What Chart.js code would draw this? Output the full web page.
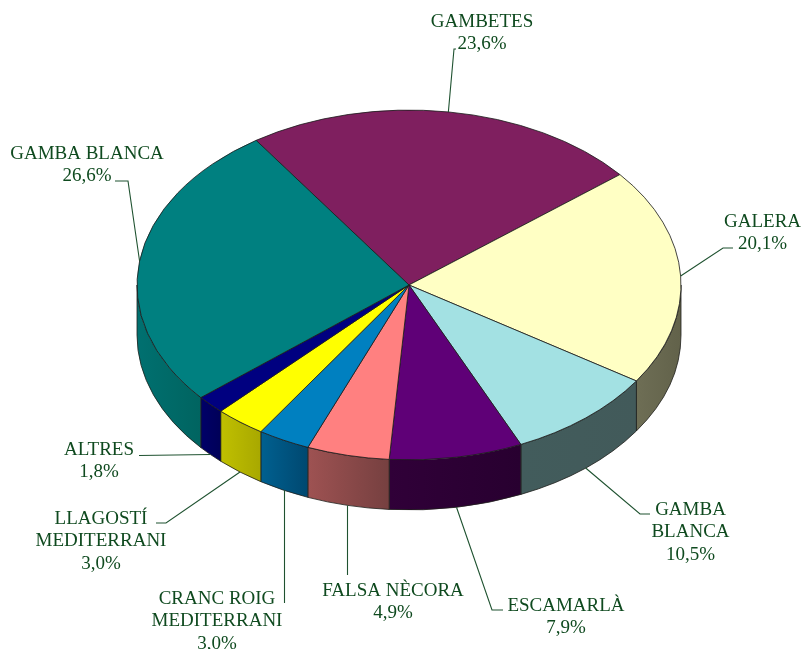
<!DOCTYPE html>
<html>
<head>
<meta charset="utf-8">
<style>html,body{margin:0;padding:0;background:#fff}canvas{display:block}</style>
<script src="https://cdn.jsdelivr.net/npm/chart.js@4"></script>
</head>
<body>
<canvas id="c" width="804" height="649"></canvas>
<script>
const categories = ["GAMBETES","GALERA","GAMBA\nBLANCA","ESCAMARLÀ","FALSA NÈCORA","CRANC ROIG\nMEDITERRANI","LLAGOSTÍ\nMEDITERRANI","ALTRES","GAMBA BLANCA"];
const percentLabels = ["23,6%","20,1%","10,5%","7,9%","4,9%","3,0%","3,0%","1,8%","26,6%"];
// Slice sizes as drawn in the picture (the "GAMBA BLANCA 10,5%" slice is drawn at about 9%).
const sliceValues = [23.6,20.1,9.0,7.9,4.9,3.1,3.0,1.7,26.6];
const topColors = ["#7F1F5F","#FFFFC4","#A3E1E3","#5F0077","#FF8080","#0080C0","#FFFF00","#000080","#008080"];
const sideStart = ["#501040","#6E6E55","#425C5C","#300038","#9E5252","#006090","#C0C000","#000068","#007070"];
const sideEnd   = ["#501040","#62624A","#425A5A","#280030","#764040","#004870","#A8A800","#000058","#006460"];
const labelCenters = [482,762.5,690.5,566,393,217,101,99,87];
const labelBaselines = [27,227,515,610.5,596,604,524,455,159];
const leaderElbows = [[[454,49],[456,49]],[[723,248],[733,248]],[[640,514],[650,514]],[[492,610],[503,610]],[[347.5,575]],[[284.5,603]],[[166,523],[156,523]],[[139,455.5]],[[128,181],[115,181]]];

const TILT = 0.643, DEPTH = 50, LINE = 22.3;
const textColor = "#0F4A1F";

const tiltPlugin = {
  id: "tilt",
  beforeDatasetsDraw(chart) {
    const ctx = chart.ctx, arcs = chart.getDatasetMeta(0).data;
    arcs.forEach((a, i) => {
      const from = Math.max(a.startAngle, 0), to = Math.min(a.endAngle, Math.PI);
      if (to <= from) return;
      const rx = a.outerRadius, ry = rx * TILT;
      const x0 = a.x + rx * Math.cos(from), x1 = a.x + rx * Math.cos(to);
      const g = ctx.createLinearGradient(Math.min(x0, x1), 0, Math.max(x0, x1), 0);
      g.addColorStop(0, sideStart[i]);
      g.addColorStop(1, sideEnd[i]);
      ctx.beginPath();
      ctx.ellipse(a.x, a.y, rx, ry, 0, from, to);
      ctx.ellipse(a.x, a.y + DEPTH, rx, ry, 0, to, from, true);
      ctx.closePath();
      ctx.fillStyle = g;
      ctx.fill();
      ctx.strokeStyle = "#20201c";
      ctx.lineWidth = 0.8;
      ctx.stroke();
    });
    const c = arcs[0];
    ctx.save();
    ctx.translate(c.x, c.y);
    ctx.scale(1, TILT);
    ctx.translate(-c.x, -c.y);
  },
  afterDatasetsDraw(chart) {
    const ctx = chart.ctx, arcs = chart.getDatasetMeta(0).data;
    ctx.restore();
    ctx.save();
    arcs.forEach((a, i) => {
      const mid = (a.startAngle + a.endAngle) / 2;
      const rx = a.outerRadius;
      const sx = a.x + rx * Math.cos(mid);
      const sinM = Math.sin(mid);
      const sy = a.y + rx * TILT * sinM + (sinM > 0 ? DEPTH : 0);
      ctx.beginPath();
      ctx.moveTo(i === 4 || i === 5 ? leaderElbows[i][0][0] : sx, sy);
      leaderElbows[i].forEach(p => ctx.lineTo(p[0], p[1]));
      ctx.strokeStyle = "#1F5230";
      ctx.lineWidth = 1.1;
      ctx.stroke();
      const lines = categories[i].split("\n").concat(percentLabels[i]);
      ctx.font = '19px "Liberation Serif"';
      ctx.fillStyle = textColor;
      ctx.textAlign = "center";
      ctx.textBaseline = "alphabetic";
      lines.forEach((t, k) => ctx.fillText(t, labelCenters[i], labelBaselines[i] + k * LINE));
    });
    ctx.restore();
  }
};

new Chart(document.getElementById("c"), {
  type: "pie",
  data: {
    labels: categories.map(s => s.replace("\n", " ")),
    datasets: [{
      data: sliceValues,
      backgroundColor: topColors,
      borderColor: "#1c1c1c",
      borderWidth: 1,
      hoverOffset: 0
    }]
  },
  options: {
    responsive: false,
    animation: false,
    radius: 272,
    rotation: -34.2,
    layout: { padding: { left: 14, bottom: 79 } },
    events: [],
    plugins: { legend: { display: false }, tooltip: { enabled: false }, title: { display: false } }
  },
  plugins: [tiltPlugin]
});
</script>
</body>
</html>
